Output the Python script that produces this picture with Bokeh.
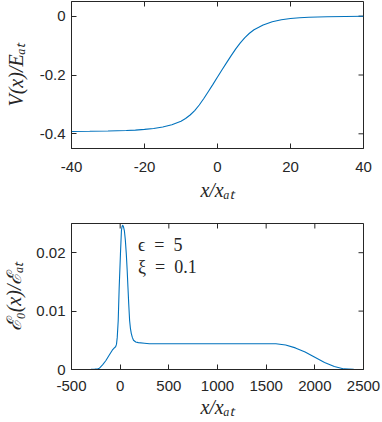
import math
from bokeh.plotting import figure
from bokeh.layouts import column
from bokeh.models import FixedTicker, Range1d
from bokeh.core.properties import value
from bokeh.embed import file_html
from bokeh.resources import INLINE

# ---------------- data ----------------
# top panel: potential V(x)/E_at
x_pot = [-40, -35, -30, -25, -22.5, -20, -17.5, -15, -12.5, -10, -8.75, -7.5,
         -6.25, -5, -3.75, -2.5, -1.25, 0, 1.25, 2.5, 3.75, 5, 6.25, 7.5, 8.75,
         10, 12.5, 15, 17.5, 20, 22.5, 25, 30, 35, 40]
v_pot = [-0.392, -0.3915, -0.3905, -0.389, -0.3875, -0.385, -0.382, -0.377,
         -0.369, -0.357, -0.348, -0.336, -0.321, -0.302, -0.280, -0.256,
         -0.232, -0.207, -0.182, -0.158, -0.134, -0.111, -0.091, -0.073,
         -0.058, -0.046, -0.030, -0.019, -0.012, -0.008, -0.0055, -0.0037,
         -0.0017, -0.0008, -0.0004]

# bottom panel: field E0(x)/E_at
x_fld = [-500, -400, -300, -260, -230, -215, -181, -148, -115, -81, -60, -47,
         -38, -30, -20, -10, 3, 13, 20, 26, 33, 43, 53, 63, 72, 80, 88, 97,
         105, 114, 125, 137, 160, 187, 250, 300, 500, 1000, 1400, 1550, 1600,
         1700, 1800, 1900, 2000, 2100, 2200, 2300, 2400, 2500]
e_fld = [0.0, 0.0, 0.00002, 0.00006, 0.00013, 0.0002, 0.0008, 0.0015, 0.0024,
         0.0033, 0.0037, 0.0039, 0.0043, 0.0055, 0.0084, 0.0141, 0.0198,
         0.0238, 0.0245, 0.0247, 0.0245, 0.0238, 0.0222, 0.0198, 0.0170,
         0.0141, 0.0112, 0.0084, 0.0071, 0.0062, 0.0055, 0.0050, 0.0047,
         0.0046, 0.0045, 0.0044, 0.0044, 0.0044, 0.0044, 0.0044, 0.0044,
         0.0042, 0.0037, 0.0030, 0.0021, 0.0012, 0.0005, 0.0001, 0.00002, 0.0]

top_xrange = (-40, 40)
top_yrange = (-0.45, 0.05)
top_xticks = [-40, -20, 0, 20, 40]
top_xlabels = ["-40", "-20", "0", "20", "40"]
top_yticks = [-0.4, -0.2, 0]
top_ylabels = ["-0.4", "-0.2", "0"]

bot_xrange = (-500, 2500)
bot_yrange = (0, 0.025)
bot_xticks = [-500, 0, 500, 1000, 1500, 2000, 2500]
bot_xlabels = ["-500", "0", "500", "1000", "1500", "2000", "2500"]
bot_yticks = [0, 0.01, 0.02]
bot_ylabels = ["0", "0.01", "0.02"]

ann_x = [184, 184]
ann_y = [0.0213, 0.0175]
ann_text = ["\u03f5\u2002=\u20025", "\u03be\u2002=\u20020.1"]

# ---------------- style ----------------
AX = "#262626"
LINE = "#0072BD"
TICKFONT = "Liberation Sans"
TITLEFONT = "Liberation Serif"


def style_axis(ax, ticks, labels):
    ax.ticker = FixedTicker(ticks=ticks)
    ax.major_label_overrides = dict(zip(ticks, labels))
    ax.major_tick_in = 5
    ax.major_tick_out = 0
    ax.minor_tick_line_color = None
    ax.axis_line_color = AX
    ax.major_tick_line_color = AX
    ax.major_label_text_color = AX
    ax.major_label_text_font = TICKFONT
    ax.major_label_text_font_size = "15px"
    ax.axis_label_text_font = TITLEFONT
    ax.axis_label_text_font_size = "20px"
    ax.axis_label_text_font_style = "italic"
    ax.axis_label_text_color = AX


def make_fig(height, xr, yr, xt, xl, yt, yl, xlabel, ylabel, btop, bbottom,
             ystandoff, xlab_standoff, xtitle_standoff):
    p = figure(width=382, height=height, x_range=Range1d(*xr), y_range=Range1d(*yr),
               output_backend="svg", toolbar_location=None,
               min_border_left=65, min_border_right=19,
               min_border_top=btop, min_border_bottom=bbottom)
    p.xgrid.visible = False
    p.ygrid.visible = False
    p.outline_line_color = AX
    p.background_fill_color = "white"
    p.border_fill_color = "white"
    style_axis(p.xaxis[0], xt, xl)
    style_axis(p.yaxis[0], yt, yl)
    p.xaxis[0].major_label_standoff = xlab_standoff
    p.yaxis[0].major_label_standoff = 6
    p.xaxis[0].axis_label = xlabel
    p.yaxis[0].axis_label = ylabel
    p.xaxis[0].axis_label_standoff = xtitle_standoff
    p.yaxis[0].axis_label_standoff = ystandoff
    # mirrored inward ticks on the right and top frame edges (outer half is clipped)
    p.scatter([xr[1]] * len(yt), yt, marker="dash", size=10,
              line_color=AX, line_width=1)
    p.scatter(xt, [yr[1]] * len(xt), marker="dash", size=10, angle=math.pi / 2,
              line_color=AX, line_width=1)
    return p


p1 = make_fig(205, top_xrange, top_yrange, top_xticks, top_xlabels,
              top_yticks, top_ylabels, "x/x\u2090\u209c", "V(x)/E\u2090\u209c",
              1, 57, 10, 13, 4)
p1.line(x_pot, v_pot, line_color=LINE, line_width=1.1)

p2 = make_fig(216, bot_xrange, bot_yrange, bot_xticks, bot_xlabels,
              bot_yticks, bot_ylabels, "x/x\u2090\u209c",
              "\u2130\u2080(x)/\u2130\u2090\u209c", 18, 52, 8, 11, 2)
p2.line(x_fld, e_fld, line_color=LINE, line_width=1.1, line_join="round")
p2.text(x=ann_x, y=ann_y, text=ann_text, text_align="left",
        text_baseline="alphabetic", text_font=value(TITLEFONT),
        text_font_size="18px", text_color=AX)

layout = column(p1, p2, spacing=0)

with open("out.html", "w") as f:
    f.write(file_html(layout, INLINE))
